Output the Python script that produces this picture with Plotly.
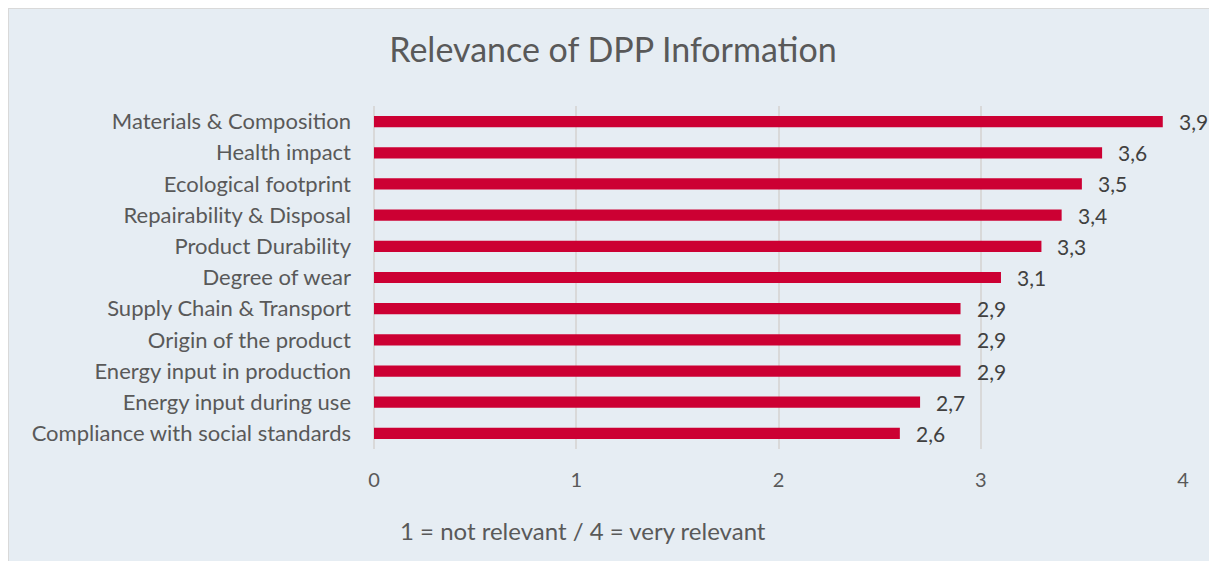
import plotly.graph_objects as go

categories = [
    "Materials & Composition",
    "Health impact",
    "Ecological footprint",
    "Repairability & Disposal",
    "Product Durability",
    "Degree of wear",
    "Supply Chain & Transport",
    "Origin of the product",
    "Energy input in production",
    "Energy input during use",
    "Compliance with social standards",
]
values = [3.9, 3.6, 3.5, 3.4, 3.3, 3.1, 2.9, 2.9, 2.9, 2.7, 2.6]
x_ticks = [0, 1, 2, 3, 4]
title_text = "Relevance of DPP Information"
note_text = "1 = not relevant / 4 = very relevant"

# page body has an 8px margin; figure coordinates are offset accordingly
OFF = 8
W, H = 1217, 561
ML, MT = 374 - OFF, 106 - OFF
PW, PH = 809, 343
MR = W - ML - PW
MB = H - MT - PH

def px_x(p):  # screen px -> paper x
    return (p - OFF - ML) / PW

def px_y(p):  # screen px -> paper y
    return (MT + PH - (p - OFF)) / PH

FONT = "Lato"
BG = "#E6EDF3"
RED = "#CC0033"

labels = [f"{v:.1f}".replace(".", ",") for v in values]

fig = go.Figure()
fig.add_trace(go.Bar(
    x=values[::-1],
    y=categories[::-1],
    orientation="h",
    marker=dict(color=RED, line=dict(width=0)),
    hoverinfo="skip",
))

for c, v, t in zip(categories, values, labels):
    fig.add_annotation(x=v, y=c, text=t, showarrow=False, xanchor="left",
                       xshift=14, font=dict(family=FONT, size=21, color="#404040"))

fig.add_annotation(x=px_x(583), y=px_y(530), xref="paper", yref="paper",
                   text=note_text, showarrow=False, xanchor="center", yanchor="middle",
                   font=dict(family=FONT, size=24, color="#595959"))

fig.add_shape(type="rect", xref="paper", yref="paper",
              x0=px_x(OFF), x1=px_x(W + 40), y0=px_y(OFF), y1=px_y(H + 40),
              fillcolor=BG, line=dict(color="#D9D9D9", width=2), layer="below")

fig.update_layout(
    width=W, height=H,
    margin=dict(l=ML, r=MR, t=MT, b=MB, pad=0),
    paper_bgcolor=BG,
    plot_bgcolor="rgba(0,0,0,0)",
    bargap=0.64,
    showlegend=False,
    title=dict(text=title_text, xref="container", x=(613 - OFF) / W, xanchor="center",
               yref="container", y=1 - (50 - OFF) / H, yanchor="middle",
               font=dict(family=FONT, size=34, color="#595959")),
    font=dict(family=FONT, color="#595959"),
    xaxis=dict(range=[0, 4], tickvals=x_ticks, showgrid=True, gridcolor="#D9D9D9",
               gridwidth=2, zeroline=True, zerolinecolor="#D9D9D9", zerolinewidth=2,
               showline=False, ticks="", ticklabelstandoff=17,
               tickfont=dict(family=FONT, size=20, color="#595959"), fixedrange=True),
    yaxis=dict(showgrid=False, zeroline=False, showline=False, ticks="",
               ticklabelstandoff=22,
               tickfont=dict(family=FONT, size=22, color="#595959"), fixedrange=True),
)

fig.write_html("out.html")
